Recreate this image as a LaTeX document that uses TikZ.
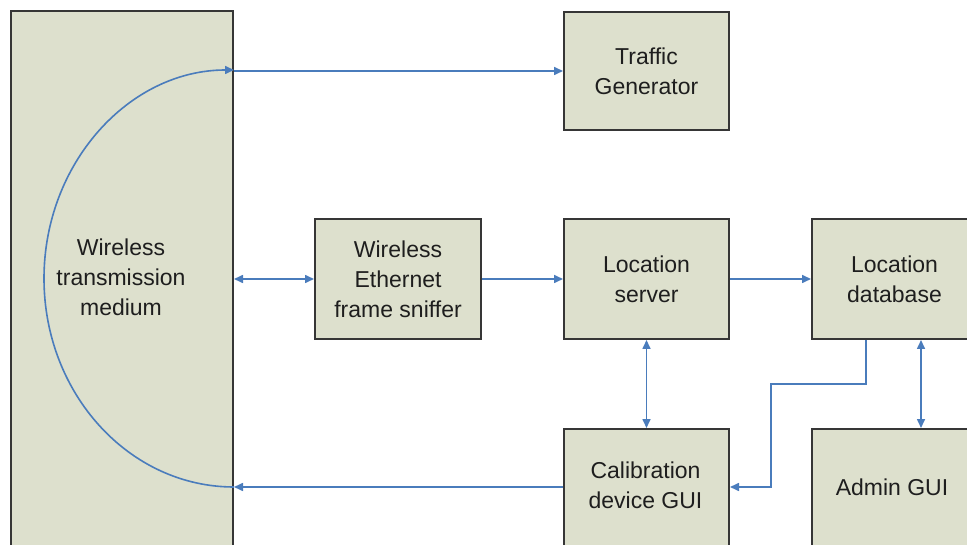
\documentclass[tikz,border=0pt]{standalone}
\usepackage{fontspec}
\setmainfont{Liberation Sans}
\usetikzlibrary{arrows.meta,positioning}
\definecolor{boxfill}{HTML}{DDE0CD}
\definecolor{boxline}{HTML}{363636}
\definecolor{arrblue}{HTML}{4A7CBC}
\definecolor{txt}{HTML}{1E1E1E}
\begin{document}
\begin{tikzpicture}[x=1pt,y=-1pt,
  blk/.style={draw=boxline,fill=boxfill,line width=2pt,minimum width=165pt,minimum height=118pt,inner sep=0pt,anchor=north west},
  lbl/.style={text=txt,font=\fontsize{23}{30}\selectfont,align=center,inner sep=0pt},
  arr/.style={draw=arrblue,line width=1.6pt,-{Triangle[length=9pt,width=8pt]}},
  darr/.style={draw=arrblue,line width=1.6pt,{Triangle[length=9pt,width=8pt]}-{Triangle[length=9pt,width=8pt]}}]
\useasboundingbox (0,0) rectangle (967,545);
\clip (0,0) rectangle (967,545);
\fill[white] (0,0) rectangle (967,545);
% boxes
\node[blk,minimum width=222pt,minimum height=570pt] (wtm) at (10,10) {};
\node[lbl] (wtmt) at (121,277) {Wireless\\transmission\\medium};
\node[blk] (tg) at (563,11) {};
\node[lbl] at (tg.center) {Traffic\\Generator};
\node[blk,minimum width=166pt,minimum height=120pt] (sn) at (314,218) {};
\node[lbl] at (sn.center) {Wireless\\Ethernet\\frame sniffer};
\node[blk,minimum height=120pt] (ls) at (563,218) {};
\node[lbl] at (ls.center) {Location\\server};
\node[blk,minimum height=120pt] (db) at (811,218) {};
\node[lbl] at (db.center) {Location\\database};
\node[blk,minimum height=140pt] (cal) at (563,428) {};
\node[lbl] at (645.5,485) {Calibration\\device GUI};
\node[blk,minimum height=140pt] (adm) at (811,428) {};
\node[lbl] at (892,487) {Admin GUI};
% coordinates
\coordinate (wTop) at (wtm.east |- tg.west);
\coordinate (wMid) at (wtm.east |- sn.west);
\coordinate (wBot) at (wtm.east |- 0,487);
\coordinate (cBot) at (cal.west |- 0,487);
\coordinate (cRight) at (cal.east |- 0,487);
\coordinate (dbOut) at (866,0 |- db.south);
\coordinate (k1) at (866,384);
\coordinate (k2) at (771,384);
\coordinate (k3) at (771,487);
% connectors
\draw[arr] (wBot) arc[start angle=90,end angle=270,x radius=190,y radius=208.5];
\draw[arr] (wTop) -- (tg.west);
\draw[darr] (wMid) -- (sn.west);
\draw[arr] (sn.east) -- (ls.west);
\draw[arr] (ls.east) -- (db.west);
\draw[darr] (ls.south) -- (ls.south |- cal.north);
\draw[darr] (921,0 |- db.south) -- (921,0 |- adm.north);
\draw[arr] (dbOut) -- (k1) -- (k2) -- (k3) -- (cRight);
\draw[arr] (cBot) -- (wBot);
\end{tikzpicture}
\end{document}
